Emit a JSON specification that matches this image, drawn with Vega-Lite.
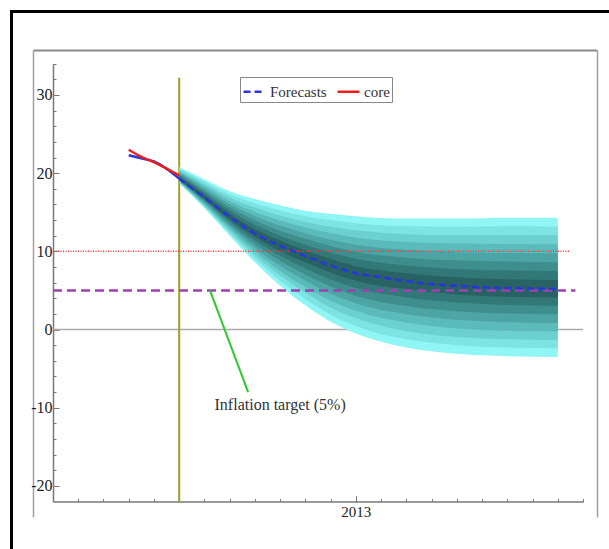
{
  "$schema": "https://vega.github.io/schema/vega-lite/v6.json",
  "width": 590,
  "height": 538,
  "autosize": {"type": "none"},
  "padding": {"left": 11, "top": 11, "right": 8, "bottom": 0},
  "background": "white",
  "view": {"stroke": null, "fill": null},
  "config": {
    "font": "Liberation Serif, Times New Roman, DejaVu Serif, serif",
    "view": {"stroke": null}
  },
  "datasets": {
    "fan": [
      {"m":5,"b":1,"v":18.7,"v2":20.8},{"m":6,"b":1,"v":15.5,"v2":19.2},{"m":7,"b":1,"v":12.0,"v2":17.7},{"m":8,"b":1,"v":8.6,"v2":16.7},{"m":9,"b":1,"v":5.6,"v2":15.9},{"m":10,"b":1,"v":3.1,"v2":15.2},{"m":11,"b":1,"v":1.0,"v2":14.8},{"m":12,"b":1,"v":-0.5,"v2":14.5},{"m":14,"b":1,"v":-2.3,"v2":14.2},{"m":16,"b":1,"v":-3.1,"v2":14.2},{"m":18,"b":1,"v":-3.4,"v2":14.3},{"m":20,"b":1,"v":-3.5,"v2":14.3},
      {"m":5,"b":2,"v":18.8,"v2":20.6},{"m":6,"b":2,"v":15.7,"v2":18.9},{"m":7,"b":2,"v":12.3,"v2":17.3},{"m":8,"b":2,"v":9.05,"v2":16.15},{"m":9,"b":2,"v":6.25,"v2":15.25},{"m":10,"b":2,"v":3.9,"v2":14.5},{"m":11,"b":2,"v":1.9,"v2":14.0},{"m":12,"b":2,"v":0.45,"v2":13.6},{"m":14,"b":2,"v":-1.25,"v2":13.2},{"m":16,"b":2,"v":-2.0,"v2":13.15},{"m":18,"b":2,"v":-2.3,"v2":13.2},{"m":20,"b":2,"v":-2.4,"v2":13.15},
      {"m":5,"b":3,"v":18.85,"v2":20.4},{"m":6,"b":3,"v":15.85,"v2":18.6},{"m":7,"b":3,"v":12.6,"v2":16.9},{"m":8,"b":3,"v":9.55,"v2":15.6},{"m":9,"b":3,"v":6.9,"v2":14.6},{"m":10,"b":3,"v":4.7,"v2":13.75},{"m":11,"b":3,"v":2.8,"v2":13.15},{"m":12,"b":3,"v":1.45,"v2":12.7},{"m":14,"b":3,"v":-0.2,"v2":12.2},{"m":16,"b":3,"v":-0.95,"v2":12.05},{"m":18,"b":3,"v":-1.25,"v2":12.05},{"m":20,"b":3,"v":-1.35,"v2":12.05},
      {"m":5,"b":4,"v":18.9,"v2":20.2},{"m":6,"b":4,"v":16.0,"v2":18.35},{"m":7,"b":4,"v":12.9,"v2":16.45},{"m":8,"b":4,"v":10.0,"v2":15.05},{"m":9,"b":4,"v":7.5,"v2":13.95},{"m":10,"b":4,"v":5.45,"v2":13.05},{"m":11,"b":4,"v":3.7,"v2":12.35},{"m":12,"b":4,"v":2.4,"v2":11.75},{"m":14,"b":4,"v":0.9,"v2":11.2},{"m":16,"b":4,"v":0.15,"v2":11.0},{"m":18,"b":4,"v":-0.15,"v2":10.95},{"m":20,"b":4,"v":-0.25,"v2":10.9},
      {"m":5,"b":5,"v":19.0,"v2":20.05},{"m":6,"b":5,"v":16.2,"v2":18.05},{"m":7,"b":5,"v":13.2,"v2":16.05},{"m":8,"b":5,"v":10.45,"v2":14.5},{"m":9,"b":5,"v":8.15,"v2":13.3},{"m":10,"b":5,"v":6.25,"v2":12.3},{"m":11,"b":5,"v":4.6,"v2":11.5},{"m":12,"b":5,"v":3.35,"v2":10.85},{"m":14,"b":5,"v":1.95,"v2":10.2},{"m":16,"b":5,"v":1.25,"v2":9.9},{"m":18,"b":5,"v":0.95,"v2":9.8},{"m":20,"b":5,"v":0.85,"v2":9.75},
      {"m":5,"b":6,"v":19.1,"v2":19.9},{"m":6,"b":6,"v":16.4,"v2":17.75},{"m":7,"b":6,"v":13.5,"v2":15.65},{"m":8,"b":6,"v":10.9,"v2":13.95},{"m":9,"b":6,"v":8.8,"v2":12.65},{"m":10,"b":6,"v":7.05,"v2":11.6},{"m":11,"b":6,"v":5.5,"v2":10.7},{"m":12,"b":6,"v":4.3,"v2":9.95},{"m":14,"b":6,"v":3.0,"v2":9.2},{"m":16,"b":6,"v":2.35,"v2":8.85},{"m":18,"b":6,"v":2.05,"v2":8.7},{"m":20,"b":6,"v":1.95,"v2":8.6},
      {"m":5,"b":7,"v":19.15,"v2":19.7},{"m":6,"b":7,"v":16.55,"v2":17.5},{"m":7,"b":7,"v":13.8,"v2":15.25},{"m":8,"b":7,"v":11.4,"v2":13.4},{"m":9,"b":7,"v":9.45,"v2":12.0},{"m":10,"b":7,"v":7.85,"v2":10.85},{"m":11,"b":7,"v":6.4,"v2":9.85},{"m":12,"b":7,"v":5.3,"v2":9.05},{"m":14,"b":7,"v":4.1,"v2":8.2},{"m":16,"b":7,"v":3.45,"v2":7.75},{"m":18,"b":7,"v":3.15,"v2":7.55},{"m":20,"b":7,"v":3.05,"v2":7.5},
      {"m":5,"b":8,"v":19.2,"v2":19.5},{"m":6,"b":8,"v":16.7,"v2":17.2},{"m":7,"b":8,"v":14.1,"v2":14.8},{"m":8,"b":8,"v":11.85,"v2":12.85},{"m":9,"b":8,"v":10.05,"v2":11.35},{"m":10,"b":8,"v":8.6,"v2":10.15},{"m":11,"b":8,"v":7.3,"v2":9.05},{"m":12,"b":8,"v":6.25,"v2":8.1},{"m":14,"b":8,"v":5.15,"v2":7.2},{"m":16,"b":8,"v":4.5,"v2":6.7},{"m":18,"b":8,"v":4.2,"v2":6.45},{"m":20,"b":8,"v":4.1,"v2":6.35}
    ],
    "lines": [
      {"s":"Forecasts","m":5,"v":19.3},{"s":"Forecasts","m":6,"v":16.9},{"s":"Forecasts","m":7,"v":14.4},{"s":"Forecasts","m":8,"v":12.3},{"s":"Forecasts","m":9,"v":10.7},{"s":"Forecasts","m":10,"v":9.4},{"s":"Forecasts","m":11,"v":8.2},{"s":"Forecasts","m":12,"v":7.2},{"s":"Forecasts","m":13,"v":6.7},{"s":"Forecasts","m":14,"v":6.2},{"s":"Forecasts","m":15,"v":5.8},{"s":"Forecasts","m":16,"v":5.6},{"s":"Forecasts","m":17,"v":5.4},{"s":"Forecasts","m":18,"v":5.3},{"s":"Forecasts","m":19,"v":5.25},{"s":"Forecasts","m":20,"v":5.2},
      {"s":"core","m":3,"v":23.0},{"s":"core","m":3.5,"v":22.1},{"s":"core","m":4,"v":21.4},{"s":"core","m":5,"v":19.7}
    ],
    "history": [
      {"m":3,"v":22.3},{"m":3.5,"v":21.9},{"m":4,"v":21.5},{"m":5,"v":19.3}
    ],
    "frame": [{"fx": 0, "fy": 0}]
  },
  "layer": [
    {
      "data": {"name": "frame"},
      "mark": {"type": "point", "opacity": 0},
      "encoding": {
        "x": {"field": "fx", "type": "quantitative", "scale": {"domain": [0, 1], "range": [-1.5, 602], "nice": false, "zero": false},
              "axis": {"orient": "top", "offset": 0, "title": null, "grid": false, "ticks": false, "labels": false, "domainColor": "#000000", "domainWidth": 3}},
        "y": {"field": "fy", "type": "quantitative", "scale": {"domain": [0, 1], "range": [542, -1.5], "nice": false, "zero": false},
              "axis": {"orient": "left", "offset": 0, "title": null, "grid": false, "ticks": false, "labels": false, "domainColor": "#000000", "domainWidth": 3}}
      }
    },
    {
      "data": {"name": "frame"},
      "mark": {"type": "point", "opacity": 0},
      "encoding": {
        "x": {"field": "fx", "type": "quantitative", "scale": {"domain": [0, 1], "range": [22, 586], "nice": false, "zero": false},
              "axis": {"orient": "top", "offset": -39, "title": null, "grid": false, "ticks": false, "labels": false, "domainColor": "#8a8a8a", "domainWidth": 2}},
        "y": {"field": "fy", "type": "quantitative", "scale": {"domain": [0, 1], "range": [506, 39], "nice": false, "zero": false},
              "axis": {"orient": "left", "offset": -22, "title": null, "grid": false, "ticks": false, "labels": false, "domainColor": "#a0a0a0", "domainWidth": 1.5}}
      }
    },
    {
      "data": {"name": "frame"},
      "mark": {"type": "point", "opacity": 0},
      "encoding": {
        "x": {"field": "fx", "type": "quantitative", "scale": {"domain": [0, 1], "range": [22, 586], "nice": false, "zero": false}, "axis": null},
        "y": {"field": "fy", "type": "quantitative", "scale": {"domain": [0, 1], "range": [506, 39], "nice": false, "zero": false},
              "axis": {"orient": "right", "offset": -4, "title": null, "grid": false, "ticks": false, "labels": false, "domainColor": "#a0a0a0", "domainWidth": 1.5}}
      }
    },
    {
      "encoding": {
        "x": {
          "field": "m", "type": "quantitative",
          "scale": {"domain": [0, 21], "range": [42, 572], "nice": false, "zero": false},
          "axis": {
            "orient": "bottom", "offset": -47.4, "title": null, "grid": false,
            "values": [0,1,2,3,4,5,6,7,8,9,10,11,12,13,14,15,16,17,18,19,20,21],
            "labelExpr": "datum.value == 12 ? '2013' : ''",
            "tickSize": {"condition": {"test": "datum.value == 12", "value": -6}, "value": -3},
            "labelPadding": 9, "labelFlush": false, "labelOverlap": false,
            "domainColor": "#777", "domainWidth": 1.5, "tickColor": "#777", "tickWidth": 1,
            "labelFont": "Liberation Serif, Times New Roman, DejaVu Serif, serif", "labelFontSize": 15, "labelColor": "#222"
          }
        },
        "y": {
          "field": "v", "type": "quantitative",
          "scale": {"domain": [-22, 34], "range": [490.6, 52.7], "nice": false, "zero": false},
          "axis": {
            "orient": "left", "offset": -42, "title": null, "grid": false,
            "values": [-20,-18,-16,-14,-12,-10,-8,-6,-4,-2,0,2,4,6,8,10,12,14,16,18,20,22,24,26,28,30,32,34],
            "labelExpr": "datum.value % 10 == 0 ? '' + datum.value : ''",
            "tickSize": {"condition": {"test": "datum.value % 10 == 0", "value": -6}, "value": -3},
            "labelPadding": 7, "labelOverlap": false,
            "domainColor": "#777", "domainWidth": 1.5, "tickColor": "#777", "tickWidth": 1,
            "labelFont": "Liberation Serif, Times New Roman, DejaVu Serif, serif", "labelFontSize": 16, "labelColor": "#222"
          }
        }
      },
      "layer": [
        {
          "data": {"values": [{"m": 0, "m2": 21, "v": 0}]},
          "mark": {"type": "rule", "color": "#aaaaaa", "strokeWidth": 1.5},
          "encoding": {"x2": {"field": "m2"}}
        },
        {
          "data": {"values": [{"m": 5, "v": -22, "v2": 32.2}]},
          "mark": {"type": "rule", "color": "#a0a020", "strokeWidth": 2},
          "encoding": {"y2": {"field": "v2"}}
        },
        {
          "data": {"name": "fan"},
          "mark": {"type": "area", "interpolate": "monotone"},
          "encoding": {
            "y2": {"field": "v2"},
            "fill": {
              "field": "b", "type": "ordinal", "legend": null,
              "scale": {"domain": [1,2,3,4,5,6,7,8], "range": ["#8ff5f5","#7de3e3","#6cd0d0","#5bbaba","#4ca4a4","#3f8e8e","#337878","#286262"]}
            }
          }
        },
        {
          "data": {"values": [{"m": 0, "m2": 20.5, "v": 10}]},
          "mark": {"type": "rule", "color": "#f03a3a", "strokeWidth": 1.5, "strokeDash": [1, 1.5]},
          "encoding": {"x2": {"field": "m2"}}
        },
        {
          "data": {"values": [{"m": 0, "m2": 20.7, "v": 5}]},
          "mark": {"type": "rule", "color": "#a040b4", "strokeWidth": 2.5, "strokeDash": [9, 5]},
          "encoding": {"x2": {"field": "m2"}}
        },
        {
          "data": {"name": "history"},
          "mark": {"type": "line", "color": "#2a35e0", "strokeWidth": 2.5, "interpolate": "monotone"},
          "encoding": {}
        },
        {
          "data": {"name": "lines"},
          "mark": {"type": "line", "strokeWidth": 2.5, "interpolate": "monotone"},
          "encoding": {
            "color": {
              "field": "s", "type": "nominal",
              "scale": {"domain": ["Forecasts", "core"], "range": ["#2a35e0", "#ee1c1c"]},
              "legend": {
                "orient": "none", "legendX": 229, "legendY": 66, "direction": "horizontal", "title": null,
                "strokeColor": "#888", "padding": 2, "labelFont": "Liberation Serif, Times New Roman, DejaVu Serif, serif", "labelFontSize": 15,
                "labelColor": "#333", "symbolType": "stroke", "symbolStrokeWidth": 2.5, "symbolSize": 480,
                "columnPadding": 5, "labelOffset": 3,
                "encode": {"symbols": {"update": {"strokeDash": {"signal": "datum.value == 'Forecasts' ? [4, 3] : [1, 0]"}}}}
              }
            },
            "strokeDash": {
              "field": "s", "type": "nominal", "legend": null,
              "scale": {"domain": ["Forecasts", "core"], "range": [[7, 4], [1, 0]]}
            }
          }
        },
        {
          "data": {"values": [{"m": 6.22, "v": 5, "m2": 7.73, "v2": -8.0}]},
          "mark": {"type": "rule", "color": "#2ec82e", "strokeWidth": 2},
          "encoding": {"x2": {"field": "m2"}, "y2": {"field": "v2"}}
        },
        {
          "data": {"values": [{"m": 9.0, "v": -9.6, "t": "Inflation target (5%)"}]},
          "mark": {"type": "text", "font": "Liberation Serif, Times New Roman, DejaVu Serif, serif", "fontSize": 16, "color": "#333", "align": "center", "baseline": "middle"},
          "encoding": {"text": {"field": "t"}}
        }
      ]
    }
  ],
  "resolve": {"scale": {"x": "independent", "y": "independent"}, "axis": {"x": "independent", "y": "independent"}}
}
